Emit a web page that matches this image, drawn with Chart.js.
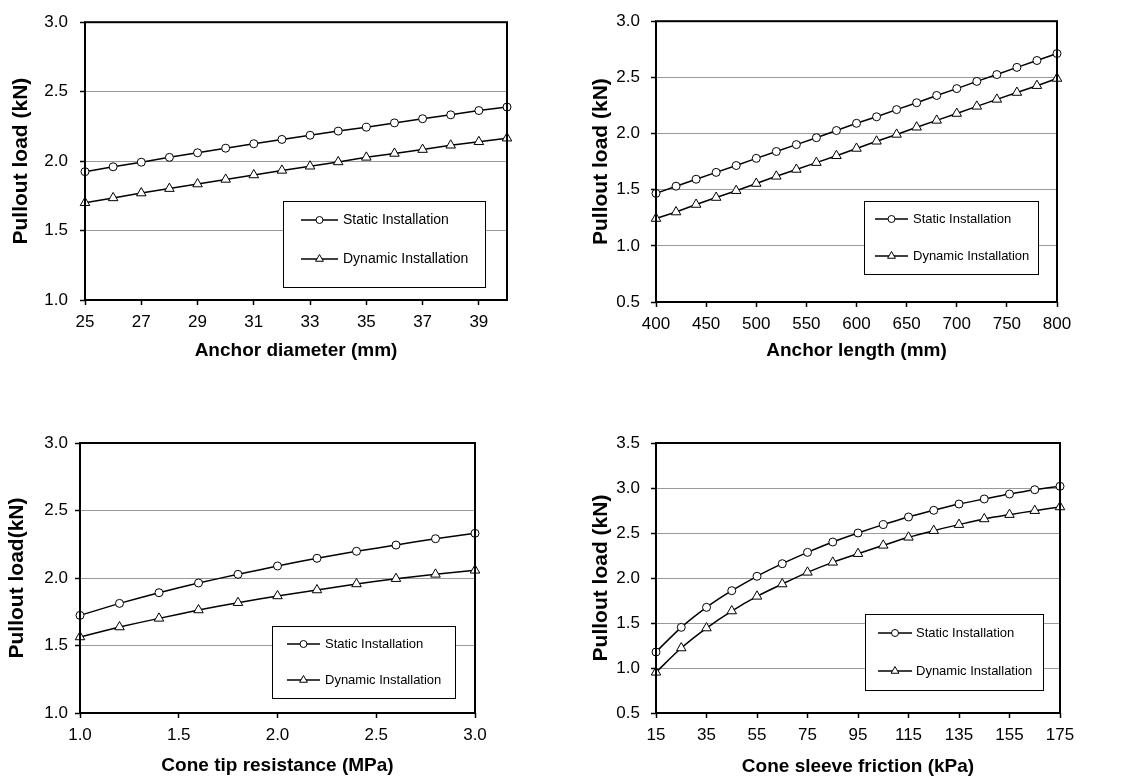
<!DOCTYPE html>
<html>
<head>
<meta charset="utf-8">
<script src="https://cdn.jsdelivr.net/npm/chart.js@4.4.1/dist/chart.umd.min.js"></script>
<style>
  body { margin: 0; background: #fff; width: 1130px; height: 784px; position: relative; overflow: hidden; }
  canvas { position: absolute; }
</style>
</head>
<body>
<canvas id="diaChart" width="560" height="380" style="left:0;top:0"></canvas>
<canvas id="lenChart" width="570" height="380" style="left:560px;top:0"></canvas>
<canvas id="tipChart" width="560" height="384" style="left:0;top:400px"></canvas>
<canvas id="sleeveChart" width="570" height="384" style="left:560px;top:400px"></canvas>
<script>
// anchor diameter (mm)
const diameter = [25, 26, 27, 28, 29, 30, 31, 32, 33, 34, 35, 36, 37, 38, 39, 40]
const diaStatic = [1.924, 1.959, 1.992, 2.027, 2.06, 2.093, 2.125, 2.156, 2.186, 2.216, 2.244, 2.275, 2.305, 2.333, 2.364, 2.389]
const diaDynamic = [1.70, 1.735, 1.77, 1.802, 1.835, 1.868, 1.90, 1.933, 1.963, 1.994, 2.027, 2.055, 2.083, 2.114, 2.139, 2.165]
const diaTicks = [25, 27, 29, 31, 33, 35, 37, 39]
const diaLoadTicks = [1.0, 1.5, 2.0, 2.5, 3.0]

// anchor length (mm)
const anchorLength = [400, 420, 440, 460, 480, 500, 520, 540, 560, 580, 600, 620, 640, 660, 680, 700, 720, 740, 760, 780, 800]
const lenStatic = [1.467, 1.531, 1.593, 1.654, 1.715, 1.779, 1.840, 1.901, 1.963, 2.027, 2.091, 2.149, 2.213, 2.274, 2.339, 2.400, 2.464, 2.525, 2.589, 2.650, 2.712]
const lenDynamic = [1.243, 1.301, 1.368, 1.430, 1.491, 1.555, 1.619, 1.680, 1.741, 1.802, 1.867, 1.931, 1.992, 2.056, 2.117, 2.178, 2.242, 2.304, 2.365, 2.426, 2.490]
const lenTicks = [400, 450, 500, 550, 600, 650, 700, 750, 800]
const lenLoadTicks = [0.5, 1.0, 1.5, 2.0, 2.5, 3.0]

// cone tip resistance (MPa)
const tipRes = [1.0, 1.2, 1.4, 1.6, 1.8, 2.0, 2.2, 2.4, 2.6, 2.8, 3.0]
const tipStatic = [1.723, 1.812, 1.891, 1.963, 2.027, 2.089, 2.146, 2.198, 2.244, 2.291, 2.331]
const tipDynamic = [1.563, 1.637, 1.701, 1.763, 1.817, 1.867, 1.911, 1.956, 1.995, 2.027, 2.057]
const tipTicks = [1.0, 1.5, 2.0, 2.5, 3.0]
const tipLoadTicks = [1.0, 1.5, 2.0, 2.5, 3.0]

// cone sleeve friction (kPa)
const sleeve = [15, 25, 35, 45, 55, 65, 75, 85, 95, 105, 115, 125, 135, 145, 155, 165, 175]
const sleeveStatic = [1.178, 1.452, 1.674, 1.859, 2.019, 2.159, 2.285, 2.400, 2.500, 2.593, 2.678, 2.752, 2.822, 2.878, 2.933, 2.981, 3.019]
const sleeveDynamic = [0.952, 1.222, 1.444, 1.633, 1.796, 1.933, 2.063, 2.174, 2.270, 2.363, 2.452, 2.526, 2.593, 2.656, 2.704, 2.748, 2.789]
const sleeveTicks = [15, 35, 55, 75, 95, 115, 135, 155, 175]
const sleeveLoadTicks = [0.5, 1.0, 1.5, 2.0, 2.5, 3.0, 3.5]

const FONT = 'Arial, "Liberation Sans", sans-serif'

const toPoints = (xs, ys) => xs.map((x, i) => ({ x: x, y: ys[i] }))

// plot frame + legend box drawn inside the plot
const frameAndKey = {
  id: 'frameAndKey',
  afterDatasetsDraw(chart, args, opts) {
    const { ctx, chartArea: a } = chart
    ctx.save()
    ctx.strokeStyle = '#000'
    ctx.lineWidth = 2
    ctx.strokeRect(a.left, a.top, a.right - a.left, a.bottom - a.top)

    const b = opts.box
    ctx.fillStyle = '#fff'
    ctx.fillRect(b[0], b[1], b[2], b[3])
    ctx.lineWidth = 1
    ctx.strokeRect(b[0] + 0.5, b[1] + 0.5, b[2], b[3])
    ctx.font = opts.size + 'px ' + FONT
    ctx.textBaseline = 'middle'
    ctx.textAlign = 'left'
    chart.data.datasets.forEach((ds, i) => {
      const y = b[1] + opts.rows[i]
      const x1 = b[0] + opts.line[0]
      const x2 = b[0] + opts.line[1]
      const xm = (x1 + x2) / 2
      ctx.strokeStyle = '#000'
      ctx.lineWidth = 1.5
      ctx.beginPath()
      ctx.moveTo(x1, y)
      ctx.lineTo(x2, y)
      ctx.stroke()
      ctx.lineWidth = 1
      ctx.fillStyle = '#fff'
      ctx.beginPath()
      if (ds.pointStyle === 'triangle') {
        const r = 4.5
        ctx.moveTo(xm, y - r)
        ctx.lineTo(xm + r * 0.866, y + r * 0.5)
        ctx.lineTo(xm - r * 0.866, y + r * 0.5)
        ctx.closePath()
      } else {
        ctx.arc(xm, y, 3.5, 0, Math.PI * 2)
      }
      ctx.fill()
      ctx.stroke()
      ctx.fillStyle = '#000'
      ctx.fillText(ds.label, b[0] + opts.text, y)
    })
    ctx.restore()
  }
}

const makePanel = (id, cfg) => {
  new Chart(document.getElementById(id), {
    type: 'line',
    data: {
      datasets: [{
        label: 'Static Installation',
        data: toPoints(cfg.xs, cfg.st),
        borderColor: '#000',
        borderWidth: 1.5,
        pointStyle: 'circle',
        pointRadius: 4,
        pointBackgroundColor: '#fff',
        pointBorderColor: '#000',
        pointBorderWidth: 1,
        tension: cfg.tension,
        clip: false
      }, {
        label: 'Dynamic Installation',
        data: toPoints(cfg.xs, cfg.dy),
        borderColor: '#000',
        borderWidth: 1.5,
        pointStyle: 'triangle',
        pointRadius: 5.5,
        pointBackgroundColor: '#fff',
        pointBorderColor: '#000',
        pointBorderWidth: 1,
        tension: cfg.tension,
        clip: false
      }]
    },
    options: {
      responsive: false,
      animation: false,
      devicePixelRatio: 1,
      layout: { padding: { left: 0, top: cfg.top, right: cfg.right, bottom: 0 } },
      plugins: {
        legend: { display: false },
        tooltip: { enabled: false },
        frameAndKey: cfg.key
      },
      scales: {
        x: {
          type: 'linear',
          min: cfg.xs[0],
          max: cfg.xs[cfg.xs.length - 1],
          afterBuildTicks: s => { s.ticks = cfg.xTicks.map(v => ({ value: v })) },
          afterFit: s => { s.height = cfg.xHeight },
          border: { display: false },
          grid: { drawOnChartArea: false, tickLength: 5, tickColor: '#000', tickWidth: 1.5 },
          ticks: {
            color: '#000',
            padding: 7,
            maxRotation: 0,
            autoSkip: false,
            font: { family: FONT, size: 17 },
            callback: v => cfg.xFixed ? v.toFixed(1) : v
          },
          title: {
            display: true,
            text: cfg.xTitle,
            color: '#000',
            font: { family: FONT, size: 19, weight: 'bold' },
            padding: { top: 0, bottom: cfg.xTitlePad }
          }
        },
        y: {
          min: cfg.yTicks[0],
          max: cfg.yTicks[cfg.yTicks.length - 1],
          afterBuildTicks: s => { s.ticks = cfg.yTicks.map(v => ({ value: v })) },
          afterFit: s => { s.width = cfg.yWidth },
          border: { display: false },
          grid: { color: '#9a9a9a', lineWidth: 1, tickLength: 5, tickColor: '#000', tickWidth: 1.5 },
          ticks: {
            color: '#000',
            padding: cfg.yPad,
            autoSkip: false,
            font: { family: FONT, size: 17 },
            callback: v => v.toFixed(1)
          },
          title: {
            display: true,
            text: cfg.yTitle,
            color: '#000',
            font: { family: FONT, size: 21, weight: 'bold' },
            padding: { top: cfg.yTitlePad, bottom: 0 }
          }
        }
      }
    },
    plugins: [frameAndKey]
  })
}

makePanel('diaChart', {
  xs: diameter, st: diaStatic, dy: diaDynamic, tension: 0,
  xTicks: diaTicks, yTicks: diaLoadTicks, xFixed: false,
  xTitle: 'Anchor diameter (mm)', yTitle: 'Pullout load (kN)',
  top: 15, right: 53, yWidth: 85, xHeight: 80, yPad: 12, yTitlePad: 8.5, xTitlePad: 18,
  key: { box: [283, 201, 202, 86], line: [18, 55], text: 60, rows: [19, 58], size: 14 }
})

makePanel('lenChart', {
  xs: anchorLength, st: lenStatic, dy: lenDynamic, tension: 0,
  xTicks: lenTicks, yTicks: lenLoadTicks, xFixed: false,
  xTitle: 'Anchor length (mm)', yTitle: 'Pullout load (kN)',
  top: 16, right: 73, yWidth: 96, xHeight: 78, yPad: 11, yTitlePad: 28.5, xTitlePad: 18,
  key: { box: [304, 201, 174, 73], line: [11, 44], text: 49, rows: [18, 55], size: 13 }
})

makePanel('tipChart', {
  xs: tipRes, st: tipStatic, dy: tipDynamic, tension: 0.15,
  xTicks: tipTicks, yTicks: tipLoadTicks, xFixed: true,
  xTitle: 'Cone tip resistance (MPa)', yTitle: 'Pullout load(kN)',
  top: 43, right: 85, yWidth: 80, xHeight: 71, yPad: 7, yTitlePad: 4.5, xTitlePad: 7,
  key: { box: [272, 226, 183, 72], line: [15, 48], text: 53, rows: [18, 54], size: 13 }
})

makePanel('sleeveChart', {
  xs: sleeve, st: sleeveStatic, dy: sleeveDynamic, tension: 0.3,
  xTicks: sleeveTicks, yTicks: sleeveLoadTicks, xFixed: false,
  xTitle: 'Cone sleeve friction (kPa)', yTitle: 'Pullout load (kN)',
  top: 43, right: 70, yWidth: 96, xHeight: 71, yPad: 11, yTitlePad: 28.5, xTitlePad: 6,
  key: { box: [305, 214, 178, 76], line: [13, 47], text: 51, rows: [19, 57], size: 13 }
})
</script>
</body>
</html>
